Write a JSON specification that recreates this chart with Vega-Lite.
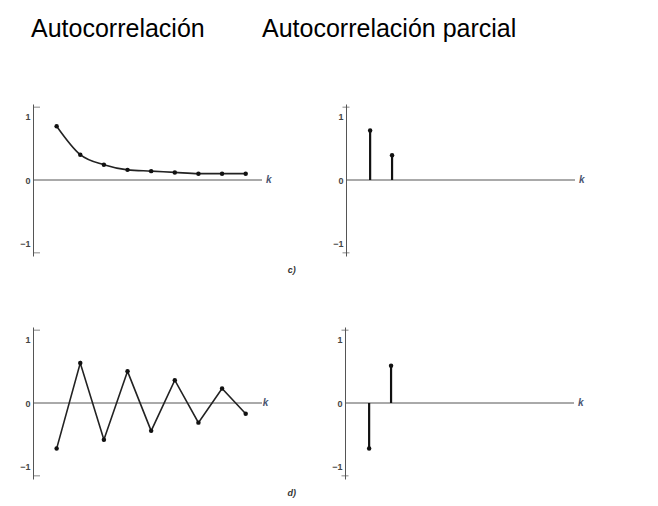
{
  "$schema": "https://vega.github.io/schema/vega-lite/v6.json",
  "autosize": {"type": "pad"},
  "padding": {"left": 19, "top": 17, "right": 5, "bottom": 5},
  "background": "white",
  "config": {
    "view": {"stroke": null},
    "font": "Liberation Sans",
    "axis": {"grid": false},
    "axisY": {"domainColor": "#555", "ticks": false, "labelFontSize": 9, "labelFontWeight": "bold", "labelColor": "#444", "labelPadding": 3, "title": null}
  },
  "datasets": {
    "acf_c": [
      {"lag": 1, "r": 0.85}, {"lag": 2, "r": 0.40}, {"lag": 3, "r": 0.24},
      {"lag": 4, "r": 0.16}, {"lag": 5, "r": 0.14}, {"lag": 6, "r": 0.12},
      {"lag": 7, "r": 0.10}, {"lag": 8, "r": 0.10}, {"lag": 9, "r": 0.10}
    ],
    "pacf_c": [{"lag": 1, "r": 0.78}, {"lag": 2, "r": 0.39}],
    "acf_d": [
      {"lag": 1, "r": -0.72}, {"lag": 2, "r": 0.63}, {"lag": 3, "r": -0.58},
      {"lag": 4, "r": 0.50}, {"lag": 5, "r": -0.44}, {"lag": 6, "r": 0.36},
      {"lag": 7, "r": -0.31}, {"lag": 8, "r": 0.23}, {"lag": 9, "r": -0.17}
    ],
    "pacf_d": [{"lag": 1, "r": -0.72}, {"lag": 2, "r": 0.59}],
    "caps": [{"end": 1.15}, {"end": -1.15}],
    "one": [{"n": 1}]
  },
  "vconcat": [
    {
      "hconcat": [
        {
          "width": 229, "height": 152,
          "title": {"text": "Autocorrelación", "anchor": "start", "frame": "group", "font": "Liberation Sans", "fontSize": 25, "fontWeight": "normal", "color": "#000", "offset": 62, "dx": -2},
          "data": {"name": "acf_c"},
          "layer": [
            {"data": {"name": "one"}, "mark": {"type": "rule", "color": "#555", "strokeWidth": 1}, "encoding": {"y": {"datum": 0, "type": "quantitative", "scale": {"domain": [-1.15, 1.15]}, "axis": {"values": [-1, 0, 1], "title": null}}}},
            {"data": {"name": "caps"}, "mark": {"type": "tick", "orient": "horizontal", "color": "#555", "size": 7, "thickness": 1}, "encoding": {"x": {"datum": 0.15, "type": "quantitative", "axis": null}, "y": {"field": "end", "type": "quantitative", "axis": {"values": [-1, 0, 1], "title": null}}}},
            {"mark": {"type": "line", "interpolate": "monotone", "color": "#222", "strokeWidth": 1.6}, "encoding": {"x": {"field": "lag", "type": "quantitative", "scale": {"domain": [0.15, 9.69], "nice": false}, "axis": null}, "y": {"field": "r", "type": "quantitative", "axis": {"values": [-1, 0, 1], "title": null}}}},
            {"mark": {"type": "point", "filled": true, "color": "#111", "opacity": 1, "size": 20}, "encoding": {"x": {"field": "lag", "type": "quantitative", "axis": null}, "y": {"field": "r", "type": "quantitative", "axis": {"values": [-1, 0, 1], "title": null}}}},
            {"data": {"name": "one"}, "mark": {"type": "text", "align": "left", "baseline": "middle", "dx": 4, "fontStyle": "italic", "fontWeight": "bold", "fontSize": 10, "color": "#4a5570"}, "encoding": {"x": {"datum": 9.69, "type": "quantitative", "axis": null}, "y": {"datum": 0, "type": "quantitative", "axis": {"values": [-1, 0, 1], "title": null}}, "text": {"value": "k"}}},
            {"data": {"name": "one"}, "mark": {"type": "text", "align": "center", "baseline": "middle", "fontStyle": "italic", "fontWeight": "bold", "fontSize": 9, "color": "#333"}, "encoding": {"x": {"datum": 10.95, "type": "quantitative", "axis": null}, "y": {"datum": -1.42, "type": "quantitative", "axis": {"values": [-1, 0, 1], "title": null}}, "text": {"value": "c)"}}}
          ]
        },
        {
          "width": 229, "height": 152,
          "title": {"text": "Autocorrelación parcial", "anchor": "start", "frame": "group", "font": "Liberation Sans", "fontSize": 25, "fontWeight": "normal", "color": "#000", "offset": 62, "dx": -84},
          "data": {"name": "pacf_c"},
          "layer": [
            {"data": {"name": "one"}, "mark": {"type": "rule", "color": "#555", "strokeWidth": 1}, "encoding": {"y": {"datum": 0, "type": "quantitative", "scale": {"domain": [-1.15, 1.15]}, "axis": {"values": [-1, 0, 1], "title": null}}}},
            {"data": {"name": "caps"}, "mark": {"type": "tick", "orient": "horizontal", "color": "#555", "size": 7, "thickness": 1}, "encoding": {"x": {"datum": -0.1, "type": "quantitative", "axis": null}, "y": {"field": "end", "type": "quantitative", "axis": {"values": [-1, 0, 1], "title": null}}}},
            {"mark": {"type": "rule", "color": "#111", "strokeWidth": 2.2}, "encoding": {"x": {"field": "lag", "type": "quantitative", "scale": {"domain": [-0.1, 10.34], "nice": false}, "axis": null}, "y": {"field": "r", "type": "quantitative", "axis": {"values": [-1, 0, 1], "title": null}}, "y2": {"datum": 0}}},
            {"mark": {"type": "point", "filled": true, "color": "#111", "opacity": 1, "size": 20}, "encoding": {"x": {"field": "lag", "type": "quantitative", "axis": null}, "y": {"field": "r", "type": "quantitative", "axis": {"values": [-1, 0, 1], "title": null}}}},
            {"data": {"name": "one"}, "mark": {"type": "text", "align": "left", "baseline": "middle", "dx": 4, "fontStyle": "italic", "fontWeight": "bold", "fontSize": 10, "color": "#4a5570"}, "encoding": {"x": {"datum": 10.34, "type": "quantitative", "axis": null}, "y": {"datum": 0, "type": "quantitative", "axis": {"values": [-1, 0, 1], "title": null}}, "text": {"value": "k"}}}
          ]
        }
      ],
      "spacing": -34
    },
    {
      "hconcat": [
        {
          "width": 229, "height": 152,
          "data": {"name": "acf_d"},
          "layer": [
            {"data": {"name": "one"}, "mark": {"type": "rule", "color": "#555", "strokeWidth": 1}, "encoding": {"y": {"datum": 0, "type": "quantitative", "scale": {"domain": [-1.15, 1.15]}, "axis": {"values": [-1, 0, 1], "title": null}}}},
            {"data": {"name": "caps"}, "mark": {"type": "tick", "orient": "horizontal", "color": "#555", "size": 7, "thickness": 1}, "encoding": {"x": {"datum": 0.15, "type": "quantitative", "axis": null}, "y": {"field": "end", "type": "quantitative", "axis": {"values": [-1, 0, 1], "title": null}}}},
            {"mark": {"type": "line", "color": "#222", "strokeWidth": 1.6}, "encoding": {"x": {"field": "lag", "type": "quantitative", "scale": {"domain": [0.15, 9.69], "nice": false}, "axis": null}, "y": {"field": "r", "type": "quantitative", "axis": {"values": [-1, 0, 1], "title": null}}}},
            {"mark": {"type": "point", "filled": true, "color": "#111", "opacity": 1, "size": 20}, "encoding": {"x": {"field": "lag", "type": "quantitative", "axis": null}, "y": {"field": "r", "type": "quantitative", "axis": {"values": [-1, 0, 1], "title": null}}}},
            {"data": {"name": "one"}, "mark": {"type": "text", "align": "left", "baseline": "middle", "dx": 4, "fontStyle": "italic", "fontWeight": "bold", "fontSize": 10, "color": "#4a5570"}, "encoding": {"x": {"datum": 9.55, "type": "quantitative", "axis": null}, "y": {"datum": 0, "type": "quantitative", "axis": {"values": [-1, 0, 1], "title": null}}, "text": {"value": "k"}}},
            {"data": {"name": "one"}, "mark": {"type": "text", "align": "center", "baseline": "middle", "fontStyle": "italic", "fontWeight": "bold", "fontSize": 9, "color": "#333"}, "encoding": {"x": {"datum": 10.95, "type": "quantitative", "axis": null}, "y": {"datum": -1.42, "type": "quantitative", "axis": {"values": [-1, 0, 1], "title": null}}, "text": {"value": "d)"}}}
          ]
        },
        {
          "width": 229, "height": 152,
          "data": {"name": "pacf_d"},
          "layer": [
            {"data": {"name": "one"}, "mark": {"type": "rule", "color": "#555", "strokeWidth": 1}, "encoding": {"y": {"datum": 0, "type": "quantitative", "scale": {"domain": [-1.15, 1.15]}, "axis": {"values": [-1, 0, 1], "title": null}}}},
            {"data": {"name": "caps"}, "mark": {"type": "tick", "orient": "horizontal", "color": "#555", "size": 7, "thickness": 1}, "encoding": {"x": {"datum": -0.1, "type": "quantitative", "axis": null}, "y": {"field": "end", "type": "quantitative", "axis": {"values": [-1, 0, 1], "title": null}}}},
            {"mark": {"type": "rule", "color": "#111", "strokeWidth": 2.2}, "encoding": {"x": {"field": "lag", "type": "quantitative", "scale": {"domain": [-0.1, 10.34], "nice": false}, "axis": null}, "y": {"field": "r", "type": "quantitative", "axis": {"values": [-1, 0, 1], "title": null}}, "y2": {"datum": 0}}},
            {"mark": {"type": "point", "filled": true, "color": "#111", "opacity": 1, "size": 20}, "encoding": {"x": {"field": "lag", "type": "quantitative", "axis": null}, "y": {"field": "r", "type": "quantitative", "axis": {"values": [-1, 0, 1], "title": null}}}},
            {"data": {"name": "one"}, "mark": {"type": "text", "align": "left", "baseline": "middle", "dx": 4, "fontStyle": "italic", "fontWeight": "bold", "fontSize": 10, "color": "#4a5570"}, "encoding": {"x": {"datum": 10.34, "type": "quantitative", "axis": null}, "y": {"datum": 0, "type": "quantitative", "axis": {"values": [-1, 0, 1], "title": null}}, "text": {"value": "k"}}}
          ]
        }
      ],
      "spacing": 34
    }
  ],
  "spacing": 52
}
